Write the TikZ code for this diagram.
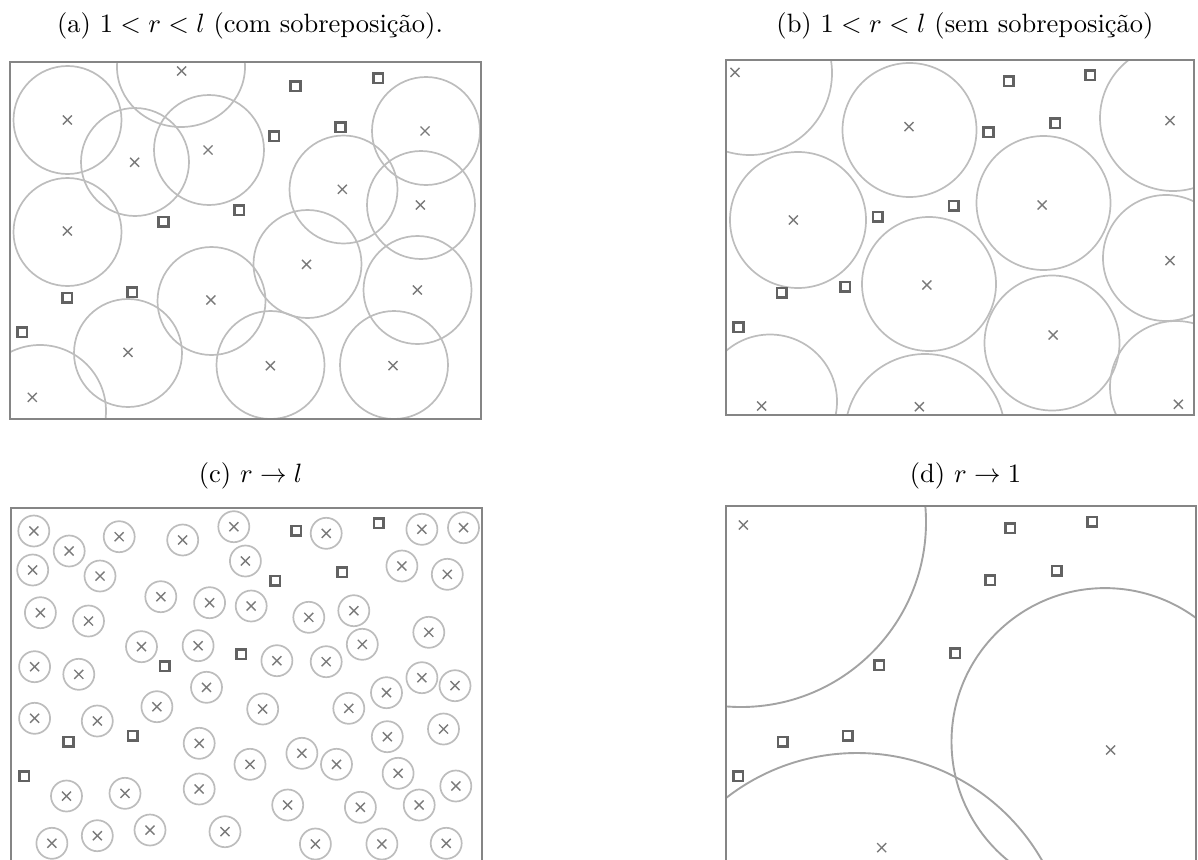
\documentclass[tikz,border=0pt]{standalone}
\definecolor{boxc}{HTML}{858585}
\definecolor{ringc}{HTML}{BDBDBD}
\definecolor{bigringc}{HTML}{A3A3A3}
\definecolor{xc}{HTML}{7A7A7A}
\definecolor{sqc}{HTML}{626262}
\begin{document}
\begin{tikzpicture}[x=1pt,y=-1pt,
  frame/.style={draw=boxc,line width=2.6pt},
  ring/.style={draw=ringc,line width=1.7pt},
  bigring/.style={draw=bigringc,line width=1.9pt},
  xm/.style={draw=xc,line width=1.4pt},
  sq/.style={draw=sqc,line width=2.6pt},
  captxt/.style={font=\fontsize{10}{12}\selectfont,scale=2.65,anchor=base,inner sep=0pt}]
\useasboundingbox (0,0) rectangle (1198,859);
\clip (0,0) rectangle (1198,859);

% captions
\node[captxt] (capa) at (250,32.5) {(a) $1<r<l$ (com sobreposição).};
\node[captxt] (capb) at (965,32.5) {(b) $1<r<l$ (sem sobreposição)};
\node[captxt] (capc) at (250.6,482) {(c) $r\to l$};
\node[captxt] (capd) at (965.5,482) {(d) $r\to 1$};

% ---------- panel (a)
\begin{scope}
\clip (10,62) rectangle (481,419);
\foreach \x/\y/\r in {67.5/120/54, 135/162/54, 209/150/55, 426/131/54, 343.5/189.5/54,
  421/205/54, 67.5/232/54, 307.5/264/54, 211.5/301/54, 417.5/290/54, 128/353/54,
  270.5/365/54, 394/365/54, 40/411/66}
  \draw[ring] (\x,\y) circle[radius=\r];
\draw[ring] (181,67) ellipse[x radius=64,y radius=60];
\end{scope}
\draw[frame] (10,62) rectangle (481,419);
\foreach \x/\y in {67.3/120, 181.7/71, 134.6/162.3, 208/150, 425/131, 342.3/189.3,
  420.4/205, 67.3/231, 306.5/264.3, 210.8/300, 417.3/290, 128/352.3, 270.4/365.7,
  393/365.7, 32.3/397.3}
  \draw[xm] (\x-4.5,\y-4.5) -- (\x+4.5,\y+4.5) (\x-4.5,\y+4.5) -- (\x+4.5,\y-4.5);
\foreach \x/\y in {295.4/86, 378/78.3, 274/136, 340.4/127.3, 163.5/221.7, 239/210,
  67.3/297.7, 132/292.3, 22/332.3}
  \draw[sq] (\x-4.8,\y-4.8) rectangle (\x+4.8,\y+4.8);

% ---------- panel (b)
\begin{scope}
\clip (726,60) rectangle (1194,415);
\foreach \x/\y/\r in {750/73/82, 909.5/130/67, 1173/118/73, 798/220/68, 1043.5/203/67,
  929/284/67, 1166/258/63, 1052/343/67.5, 770/401.5/67, 925/434/80, 1176/387/66}
  \draw[ring] (\x,\y) circle[radius=\r];
\end{scope}
\draw[frame] (726,60) rectangle (1194,415);
\foreach \x/\y in {735/72.3, 909/126.7, 1170/120.7, 793.3/220, 1042/205, 926.8/285,
  1170/260.7, 1053/335, 761.7/406, 919.3/406.7, 1178.3/404.3}
  \draw[xm] (\x-4.5,\y-4.5) -- (\x+4.5,\y+4.5) (\x-4.5,\y+4.5) -- (\x+4.5,\y-4.5);
\foreach \x/\y in {1008.8/81, 1090.3/75, 988.4/132.3, 1055/123.3, 953.8/205.7,
  877.6/216.7, 845.3/286.7, 781.8/292.7, 738.4/327.3}
  \draw[sq] (\x-4.8,\y-4.8) rectangle (\x+4.8,\y+4.8);

% ---------- panel (c)
\begin{scope}
\clip (11,508) rectangle (482,900);
\foreach \x/\y in {33.8/531, 69.2/551, 119.2/536.7, 182.7/540, 233.8/526.7, 326.2/533.3,
  421.9/529.3, 463.5/527.7, 32.7/570, 100/576, 245.4/561, 401.9/566, 447.3/574.3,
  40.4/612.7, 88.5/621, 160.8/596.7, 209.6/602.7, 251.2/606, 308.8/617.3, 353.8/610.7,
  428.8/632.3, 141.5/646.7, 198.1/645.7, 276.9/660.7, 326.2/661.7, 362.3/644.3,
  34.6/666.7, 78.8/674.3, 206.5/687.3, 421.9/677.7, 455/685.7, 386.5/692.7,
  156.9/706.7, 262.7/709, 348.8/708.3, 34.6/718.3, 97.3/721, 199.2/743.3, 387.3/736.7,
  443.5/729, 301.9/753.3, 250/764.3, 336.5/764.3, 398.1/773.3, 66.5/796, 125/793.3,
  199.2/789, 455.8/786, 287.7/805, 360.4/807.3, 419.2/805, 51.9/843.3, 97.3/835.7,
  150/830, 225/831.7, 315.4/844, 381.9/844, 446.2/843.3}
  {\draw[ring] (\x,\y) circle[radius=15.5];
   \draw[xm] (\x-4.5,\y-4.5) -- (\x+4.5,\y+4.5) (\x-4.5,\y+4.5) -- (\x+4.5,\y-4.5);}
\end{scope}
\draw[frame] (11,900) -- (11,508) -- (482,508) -- (482,900);
\foreach \x/\y in {296.2/530.7, 378.8/523.3, 275/580.7, 342.3/572.3, 164.6/666,
  241.2/654, 68.5/741.7, 132.7/735.7, 24.2/776}
  \draw[sq] (\x-4.8,\y-4.8) rectangle (\x+4.8,\y+4.8);

% ---------- panel (d)
\begin{scope}
\clip (726,506) rectangle (1196,900);
\draw[bigring] (741,522) circle[radius=185];
\draw[bigring] (1105,741.6) circle[radius=153.5];
\draw[bigring] (857,966) circle[radius=213];
\end{scope}
\draw[frame] (726,900) -- (726,506) -- (1196,506) -- (1196,900);
\foreach \x/\y in {743.3/525, 1110.7/750, 881.7/847.7}
  \draw[xm] (\x-4.5,\y-4.5) -- (\x+4.5,\y+4.5) (\x-4.5,\y+4.5) -- (\x+4.5,\y-4.5);
\foreach \x/\y in {1010/528.3, 1092.3/521.7, 990/580, 1056.7/570.7, 955/653.3,
  879/665, 847.7/735.7, 782.7/741.7, 738.3/776}
  \draw[sq] (\x-4.8,\y-4.8) rectangle (\x+4.8,\y+4.8);
\end{tikzpicture}
\end{document}
